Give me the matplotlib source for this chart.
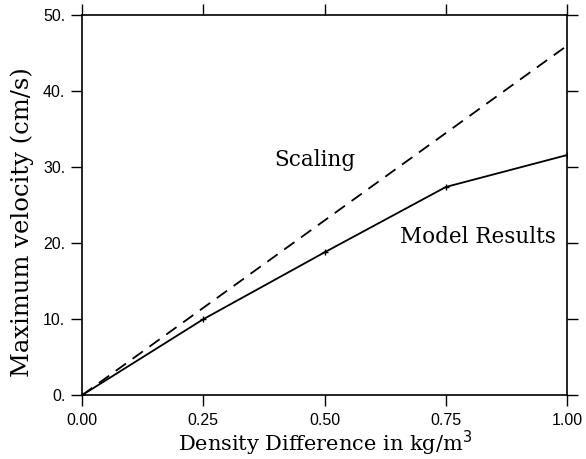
import numpy as np
import matplotlib.pyplot as plt

# density difference (kg/m^3) and maximum velocity (cm/s)
density = [0.0, 0.25, 0.5, 0.75, 1.0]
model_velocity = [0.0, 10.0, 18.8, 27.4, 31.6]
scaling_density = [0.0, 1.0]
scaling_velocity = [0.0, 46.0]

x_ticks = [0.0, 0.25, 0.5, 0.75, 1.0]
x_labels = ["0.00", "0.25", "0.50", "0.75", "1.00"]
y_ticks = [0, 10, 20, 30, 40, 50]
y_labels = ["0.", "10.", "20.", "30.", "40.", "50."]

serif = ["DejaVu Serif"]
sans = ["Liberation Sans", "DejaVu Sans"]

fig = plt.figure(figsize=(5.86, 4.59), dpi=100)
ax = fig.add_axes([0.140, 0.139, 0.828, 0.828])

ax.plot(scaling_density, scaling_velocity, color="black", lw=1.3,
        ls=(0, (7, 4.5)))
ax.plot(density, model_velocity, color="black", lw=1.3,
        marker="+", markersize=4, markeredgewidth=1.0)

ax.set_xlim(0, 1)
ax.set_ylim(0, 50)

ax.set_xticks(x_ticks)
ax.set_xticklabels(x_labels, fontfamily=sans, fontsize=11.5)
ax.set_yticks(y_ticks)
ax.set_yticklabels(y_labels, fontfamily=sans, fontsize=11.5)
ax.tick_params(direction="out", length=8, width=1, top=True, right=True,
               labeltop=False, labelright=False)
ax.tick_params(axis="x", pad=5)
ax.tick_params(axis="y", pad=4)
for spine in ax.spines.values():
    spine.set_linewidth(1.2)

ax.set_xlabel("Density Difference in kg/m$^3$", fontfamily=serif,
              fontsize=15)
ax.xaxis.set_label_coords(0.5, -0.088)
ax.set_ylabel("Maximum velocity (cm/s)", fontfamily=serif,
              fontsize=17.5)
ax.yaxis.set_label_coords(-0.10, 0.455)

ax.text(0.48, 30.9, "Scaling", fontfamily=serif, fontsize=15.5,
        ha="center", va="center")
ax.text(0.815, 20.8, "Model Results", fontfamily=serif, fontsize=15.5,
        ha="center", va="center")

fig.savefig("out.png", dpi=100)
